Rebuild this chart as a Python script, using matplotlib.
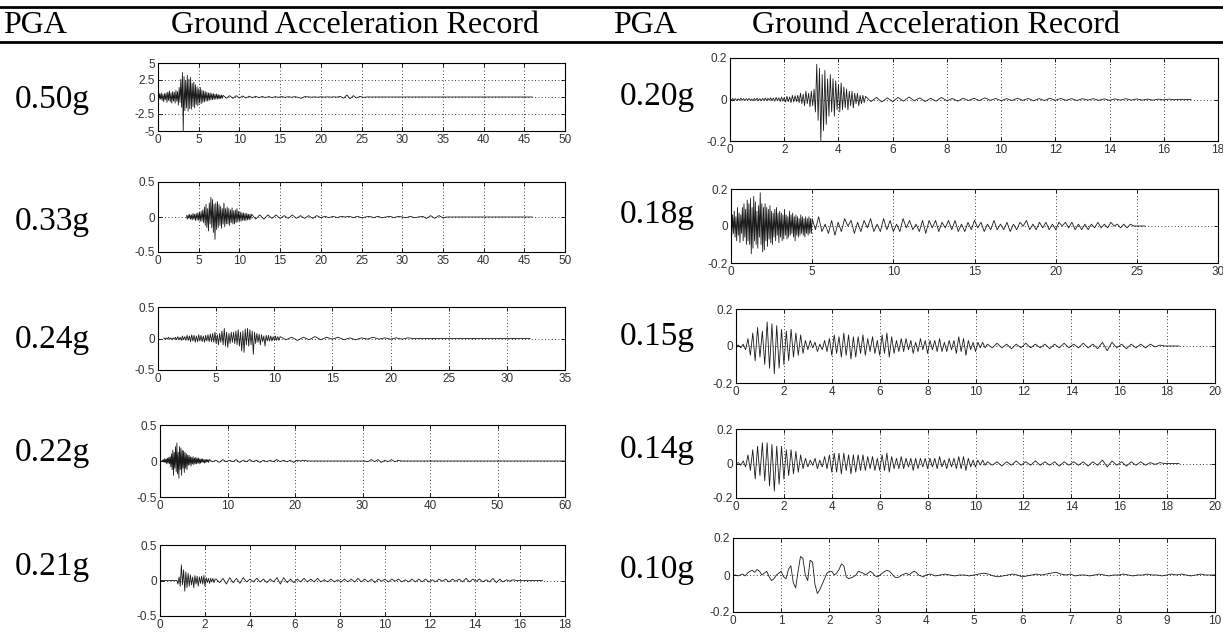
import numpy as np
import matplotlib
matplotlib.use('Agg')
import matplotlib.pyplot as plt

# ---- record metadata ----
pga = ['0.50g', '0.33g', '0.24g', '0.22g', '0.21g',
       '0.20g', '0.18g', '0.15g', '0.14g', '0.10g']
x_max = [50, 50, 35, 60, 18, 18, 30, 20, 20, 10]
x_step = [5, 5, 5, 10, 2, 2, 5, 2, 2, 1]
y_max = [5, 0.5, 0.5, 0.5, 0.5, 0.2, 0.2, 0.2, 0.2, 0.2]
t_first = [0, 3.5, 0.5, 0.3, 0, 0, 0, 0, 0, 0]
dt_strong = [0.1, 0.1, 0.1, 0.1, 0.05, 0.05, 0.05, 0.1, 0.1, 0.05]
dt_coda = [0.4, 0.5, 0.5, 0.5, 0.15, 0.2, 0.2, 0.2, 0.2, 0.1]
t_last = [46, 46, 32, 60, 17, 17, 25.5, 18.5, 18.5, 10]

# ---- acceleration samples ----
acc_050_strong = [.3, -.4, .5, -.3, .6, -.5, .4, -.7, .5, -.4,
                  .6, -.8, .7, -.5, .9, -.7, .6, -.9, .8, -.6,
                  .7, -.9, 1.0, -.6, .8, -1.2, 1.4, -.8,
                  2.6, -1.5, 3.6, -5.0, 3.0, -2.0, 2.4, -1.6,
                  3.2, -2.1, 2.6, -1.7, 2.9, -1.8, 2.0, -1.4, 2.2, -1.6,
                  1.8, -1.1, 1.5, -1.3, 1.2, -.9, 1.4, -1.0, 1.0, -.8,
                  .9, -.7, .8, -.6, .7, -.6, .6, -.5, .6, -.4,
                  .5, -.4, .5, -.35, .4, -.3, .45, -.3, .35, -.3, .3, -.25, .3, -.2]
acc_050_coda = [.25, -.2, .2, -.2, .2, -.15, .15, -.15, .12, -.1,
                .1, -.1, .08, -.08, .06, -.08, .05, -.05, .06, -.05, .04, -.04, .05, -.04,
                -.2, .05,
                .03, -.03, .02, -.03, .03, -.02, .02, -.02, .02, -.03,
                .1, -.2, .3, -.25, .2, -.15, .1, -.05, 0]

acc_033_strong = [.02, -.03, .03, -.02, .04, -.03, .03, -.04, .05, -.03,
                  .04, -.05, .05, -.04, .06, -.05, .07, -.06, .08, -.06,
                  .1, -.08, .14, -.12, .18, -.15, .12, -.2, .2, -.1,
                  .28, -.15, .25, -.22, .18, -.32, .2, -.18, .22, -.15,
                  .18, -.12, .15, -.16, .12, -.1, .2, -.14, .12, -.1,
                  .14, -.1, .12, -.12, .1, -.08, .13, -.1, .09, -.1,
                  .1, -.08, .12, -.07, .08, -.06, .07, -.06, .06, -.05,
                  .06, -.05, .05, -.05, .05, -.04, .04, -.04, .04, -.03]
acc_033_coda = [.04, -.03, .03, -.03, .03, -.02, .03, -.02, .02, -.02, .03, -.02, .02, -.02, .02, -.02, .02,
                -.01, .01, -.01, .01, -.01, .01, 0, .01, -.01, .01, -.01, 0, .01,
                -.01, .01, -.01, 0, .01, -.01, .01, 0, -.01, .01, -.01, 0, .01,
                -.02, .02, -.02, .02, -.01, 0]

acc_024_strong = [.01, -.01, .01, -.01, .02, -.01, .01, -.02, .01, -.01,
                  .02, -.02, .03, -.02, .02, -.03, .04, -.02, .03, -.03,
                  .05, -.03, .04, -.05, .06, -.04, .05, -.06, .04, -.05,
                  .06, -.04, .05, -.05, .04, -.06, .05, -.04, .06, -.05,
                  .07, -.05, .08, -.06, .1, -.08, .06, -.1, .08, -.06,
                  .12, -.1, .16, -.12, .1, -.14, .08, -.08, .1, -.06,
                  .1, -.08, .12, -.1, .14, -.12, .1, -.2, .12, -.22,
                  .15, -.1, .16, -.12, .14, -.1, .12, -.25, .1, -.08,
                  .08, -.06, .07, -.1, .06, -.05, .04, -.12, .05, -.04,
                  .05, -.04, .04, -.04, .03, -.03, .04, -.03, .03, -.03]
acc_024_coda = [.03, -.02, .02, -.03, .02, -.02, .03, -.02, .02, -.01,
                .02, -.02, .01, -.02, .01, -.01, .02, -.01, .01, -.01,
                .01, -.01, .01, 0, 0]

acc_022_strong = [.01, -.01, .02, -.02, .03, -.02, .03, -.04, .04, -.03,
                  .05, -.04, .06, -.08, .1, -.12, .15, -.2, .12, -.1,
                  .2, -.15, .25, -.18, .12, -.24, .2, -.12, .18, -.2,
                  .15, -.1, .14, -.16, .12, -.1, .1, -.12, .08, -.06,
                  .08, -.05, .06, -.07, .05, -.04, .06, -.05, .04, -.04,
                  .05, -.04, .04, -.03, .04, -.04, .03, -.03, .03, -.02,
                  .03, -.02, .02, -.03, .02, -.02, .02, -.01, .02, -.02]
acc_022_coda = [.02, -.01, .01, -.02, .02, -.01, .01, -.01, .02, -.02,
                .01, -.01, .02, -.01, .01, -.02, .01, -.01, .01, -.01,
                .02, -.01, .01, -.01, .01, -.02, .01, 0, .01,
                0, 0, 0, 0, 0, 0, 0, 0, 0, 0, 0, 0, 0, 0, 0, 0, 0, 0,
                -.01, .02, -.01, .02, -.02, .01, -.01, .02, -.01, .01, 0]

acc_021_strong = [0, 0, 0, 0, 0, 0, 0, 0, 0, 0, 0, 0, 0, 0, 0, 0,
                  -.05, .05, -.08, .22, -.06, .15, -.15, .12, -.1, .1,
                  -.08, .08, -.06, .05, -.1, .07, -.05, .06, -.08, .05,
                  -.04, .06, -.05, .07, -.08, .04, -.03, .03, -.04, .03, -.02, .03, -.03, .02]
acc_021_coda = [.02, -.03, .03, -.05, .04, -.03, .03, -.04, .04, -.02,
                .02, -.02, .03, -.02, .02, -.03, .02, -.02, .04, -.05,
                .04, -.03, .02, -.03, .02, -.02, .03, -.02, .02, -.02,
                .03, -.02, .01, -.02, .02, -.02, .01, -.02, .02, -.02,
                .02, -.02, .03, -.02, .02, -.02, .02, -.03, .02, -.01,
                .02, -.02, .02, -.01, .02, -.02, .01, -.02, .02, -.02,
                .02, -.02, .02, -.02, .01, -.02, .02, -.01, .02, -.02,
                .02, -.01, .02, -.02, .03, -.02, .02, -.01, .02, -.02,
                .01, -.02, .03, -.03, .02, -.02, .01, -.01, .01, 0]

acc_020_strong = [.003, -.004, .005, -.003, .004, -.005, .003, -.004, .006, -.003,
                  .004, -.005, .004, -.003, .005, -.004, .003, -.006, .005, -.004,
                  .006, -.005, .004, -.006, .005, -.004, .007, -.005, .006, -.004,
                  .008, -.006, .007, -.008, .01, -.006, .008, -.01, .012, -.008,
                  .01, -.012, .015, -.01, .012, -.015, .02, -.012, .018, -.01,
                  .02, -.015, .03, -.02, .025, -.03, .04, -.02, .03, -.035, .04, -.03, .05, -.06,
                  .17, -.1, .15, -.2, .12, -.15, .14, -.12, .1, -.08,
                  .12, -.06, .1, -.08, .09, -.05, .07, -.06, .08, -.05,
                  .06, -.04, .05, -.05, .04, -.03, .04, -.04, .03, -.02, .03, -.03, .02, -.02, .02, -.015]
acc_020_coda = [.015, -.01, .01, -.012, .008, -.01, .01, -.008, .012, -.006,
                .008, -.01, .006, -.008, .01, -.006, .005, -.008, .006, -.005,
                .006, -.005, .008, -.004, .005, -.006, .004, -.005, .006, -.004,
                .005, -.006, .004, -.005, .006, -.004, .005, -.004, .004, -.005,
                .004, -.003, .004, -.004, .003, -.004, .003, -.003, .004, -.003,
                .003, -.003, .002, -.003, .002, -.002, .002, -.001, .001, 0]

acc_018_strong = [.03, -.05, .06, -.04, .08, -.06, .05, -.08, .1, -.05,
                  .07, -.09, .06, -.04, .1, -.08, .12, -.06, .09, -.1,
                  .14, -.08, .12, -.1, .15, -.15, .1, -.12, .16, -.08,
                  .13, -.1, .08, -.12, .11, -.06, .18, -.1, .12, -.14,
                  .1, -.13, .12, -.08, .1, -.11, .09, -.07, .11, -.09,
                  .08, -.1, .07, -.06, .09, -.08, .1, -.05, .07, -.09,
                  .08, -.06, .07, -.08, .06, -.07, .09, -.05, .06, -.07,
                  .05, -.06, .08, -.05, .06, -.04, .07, -.06, .05, -.08,
                  .06, -.05, .05, -.06, .04, -.05, .06, -.04, .05, -.05,
                  .04, -.06, .05, -.04, .04, -.05, .05, -.04, .04, -.04]
acc_018_coda = [.04, -.02, .05, -.03, .01, -.04, .03, -.05, .02, -.03,
                .04, 0, .03, -.04, .02, -.03, .03, -.01, .04, -.03, .01, -.03, .04, -.02, .03,
                -.03, .01, -.03, .04, -.01, .03, -.02, .01, -.03, .03,
                -.04, .03, -.01, .03, -.03, .02, -.01, .03, -.02, .03, -.03, .01, -.03, .02, -.02,
                .03, -.01, .02, -.03, .01, -.02, .03, -.02, .01, -.02,
                .02, -.03, .01, -.02, .02, 0, .03, -.02, .01, -.02, .02, -.01, .02, -.02, .01,
                -.02, .02, 0, .02, -.01, .02, -.02, .01, -.02, .01,
                -.02, .01, -.01, .02, -.01, .01, -.01, .02, 0, .01, -.01, .01, -.01, .01, 0]

acc_015_strong = [0, .005, -.01, .01, -.02,
                  .04, -.05, .07, -.08, .1, -.06, .08,
                  -.1, .13, -.12, .12, -.15, .11, -.12, .09, -.1, .08,
                  -.08, .09, -.06, .07, -.05, .06, -.04, .03,
                  -.02, .03, -.01, .02, -.03, .01, -.02, .03, -.03, .04,
                  -.05, .06, -.04, .05, -.06, .07, -.05, .06, -.07, .05,
                  -.06, .05, -.04, .06, -.05, .04, -.03, .05, -.04, .03,
                  -.05, .06, -.04, .07, -.06, .05, -.04, .03, -.03, .04,
                  -.03, .04, -.02, .03, -.04, .02, -.03, .04, -.02, .03,
                  -.04, .03, -.02, .03, -.03, .04, -.03, .02, -.03, .03,
                  -.02, .03, -.04, .05, -.03, .04, -.05, .03, -.02, .02, -.03, .02, -.01, .02, -.01]
acc_015_coda = [.01, -.01, .015, -.01, .01, -.015, .01, -.01, .015, -.01,
                .01, -.01, .01, -.015, .01, -.01, .015, -.01, .01, -.01,
                .015, -.01, .01, -.015, .02, -.025, .02, -.01, .01, -.015,
                .01, -.01, .01, -.01, .01, -.005, .005, 0]

acc_014_strong = [0, .005, -.01, .015, -.02,
                  .05, -.04, .08, -.09, .1, -.07, .12,
                  -.1, .12, -.13, .11, -.16, .1, -.12, .1, -.09, .08,
                  -.07, .08, -.06, .07, -.05, .05, -.03, .03,
                  -.02, .02, -.01, .03, -.03, .02, -.02, .04, -.03, .05,
                  -.05, .06, -.05, .06, -.06, .06, -.04, .05, -.06, .05,
                  -.05, .05, -.04, .05, -.04, .04, -.03, .04, -.04, .03,
                  -.04, .05, -.04, .06, -.05, .04, -.03, .03, -.03, .04,
                  -.03, .03, -.02, .03, -.04, .03, -.03, .03, -.02, .03,
                  -.03, .03, -.02, .03, -.03, .04, -.02, .02, -.03, .03,
                  -.02, .03, -.03, .04, -.03, .04, -.04, .03, -.02, .02, -.02, .02, -.01, .02, -.01]
acc_014_coda = [.01, -.01, .01, -.015, .01, -.01, .015, -.01, .01, -.01,
                .015, -.01, .01, -.01, .01, -.015, .01, -.01, .01, -.01,
                .01, -.015, .01, -.01, .02, -.02, .015, -.01, .01, -.015,
                .01, -.01, .01, -.01, .005, -.005, .005, 0]

acc_010_strong = [0, 0, -.005, 0, .005, -.005, .01, .02, .025, .015,
                  .03, .02, 0, .01, .02, -.01, -.03, -.02, 0, .01,
                  .02, -.01, -.02, .03, .05, -.04, -.07, .02, .1, .09,
                  0, -.03, .08, .07, -.05, -.1, -.08, -.05, -.02, .01,
                  .02, .02, 0, .01, .03, .06, .05, -.01, -.02, -.015,
                  -.01, 0, .02, .015, .01, 0, .01, .02, .01, -.005,
                  -.01, 0, .01, .02, .025, .02, .005, -.01, -.015, -.01,
                  0, .005, .01, 0, .01, .02, .015, 0, -.005, -.01]
acc_010_coda = [0, .005, -.005, 0, .005, 0, -.005, 0, 0, -.005,
                0, .005, .01, .005, -.005, -.01, -.005, 0, .005, 0,
                -.01, -.005, 0, .005, 0, .005, .01, .015, .005, 0,
                .005, -.005, 0, 0, -.005, 0, .005, 0, -.005, 0,
                0, .005, 0, -.005, 0, 0, .005, 0, 0, -.005,
                0, .005, 0, .005, 0, -.005, 0, .005, 0, 0]

strong = [acc_050_strong, acc_033_strong, acc_024_strong, acc_022_strong, acc_021_strong,
          acc_020_strong, acc_018_strong, acc_015_strong, acc_014_strong, acc_010_strong]
coda = [acc_050_coda, acc_033_coda, acc_024_coda, acc_022_coda, acc_021_coda,
        acc_020_coda, acc_018_coda, acc_015_coda, acc_014_coda, acc_010_coda]

# ---- layout (pixels: left, right, top, bottom) ----
W, H = 1223, 632
boxes = [(158, 565, 63, 131), (158, 565, 182, 252), (158, 565, 307, 370),
         (160, 565, 425, 497), (160, 565, 545, 616),
         (730, 1218, 58, 141), (731, 1218, 189, 263), (736, 1215, 309, 383),
         (736, 1215, 429, 498), (733, 1215, 538, 612)]
label_pos = [(52, 100), (52, 222), (52, 340), (52, 453), (52, 567),
             (657, 97), (657, 215), (657, 337), (657, 450), (657, 570)]

fig = plt.figure(figsize=(W / 100, H / 100), dpi=100)
serif = ['Liberation Serif', 'DejaVu Serif']

# table rules and header
for yy in (7, 42):
    fig.add_artist(plt.Line2D([0, 1], [1 - yy / H] * 2, color='k', lw=2))
for xc, txt in [(35, 'PGA'), (355, 'Ground Acceleration Record'),
                (645, 'PGA'), (936, 'Ground Acceleration Record')]:
    fig.text(xc / W, 1 - 33 / H, txt, ha='center', va='baseline', family=serif, fontsize=23)

for i in range(10):
    l, r, t, b = boxes[i]
    ax = fig.add_axes([l / W, 1 - b / H, (r - l) / W, (b - t) / H])
    s = np.array(strong[i])
    c = np.array(coda[i])
    ts = t_first[i] + dt_strong[i] * np.arange(len(s))
    tc = ts[-1] + dt_strong[i] + dt_coda[i] * np.arange(len(c))
    tt = np.concatenate([ts, tc, [t_last[i]]])
    aa = np.concatenate([s, c, [0]])
    ax.plot(tt, aa, color='#1a1a1a', lw=0.6)

    ax.set_xlim(0, x_max[i])
    ax.set_ylim(-y_max[i], y_max[i])
    ax.set_xticks(np.arange(0, x_max[i] + x_step[i] / 2, x_step[i]))
    if i == 0:
        yt = [-5, -2.5, 0, 2.5, 5]
    else:
        yt = [-y_max[i], 0, y_max[i]]
    ax.set_yticks(yt)
    ax.set_yticklabels(['%g' % v for v in yt])
    ax.set_xticklabels(['%g' % v for v in ax.get_xticks()])
    ax.grid(True, linestyle=(0, (1, 3)), color='k', lw=0.6)
    ax.tick_params(direction='in', top=True, right=True, length=3, width=0.6,
                   pad=2, labelsize=8.5, labelcolor='#333333')
    for lab in ax.get_xticklabels() + ax.get_yticklabels():
        lab.set_family(['Liberation Sans', 'DejaVu Sans'])
    for sp in ax.spines.values():
        sp.set_linewidth(0.8)

    xc, yc = label_pos[i]
    fig.text(xc / W, 1 - yc / H, pga[i], ha='center', va='center', family=serif, fontsize=24)

fig.savefig('out.png', dpi=100)
